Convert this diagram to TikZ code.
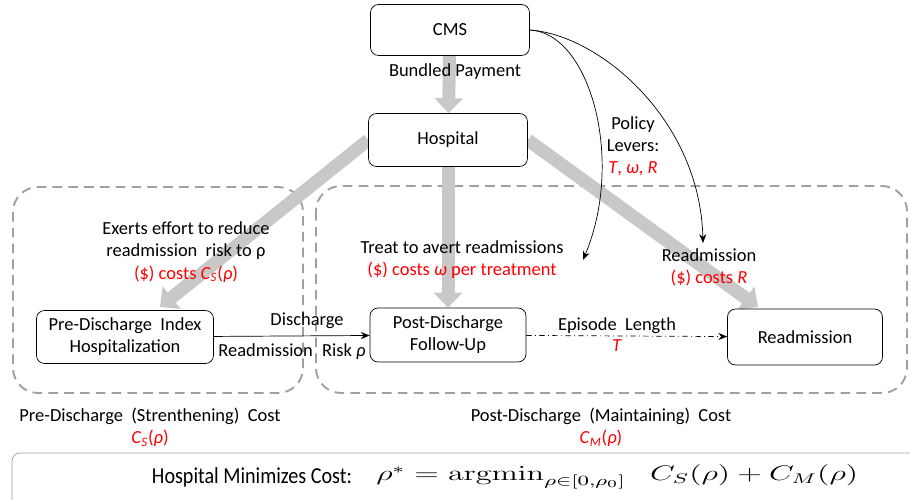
\documentclass[tikz,border=0pt]{standalone}
\usepackage[no-math]{fontspec}
\setmainfont{Carlito}
\usepackage{tikz}
\usetikzlibrary{arrows.meta, backgrounds}

\definecolor{flowgray}{RGB}{200,200,200}
\definecolor{regiongray}{RGB}{160,160,160}
\newcommand{\CostS}{\textit{C}\textsubscript{\textit{S}}(\textit{ρ})}
\newcommand{\CostM}{\textit{C}\textsubscript{\textit{M}}(\textit{ρ})}

\begin{document}
\begin{tikzpicture}[
		x = 0.02cm, y = -0.02cm, thin,
		every node/.style = {font = \fontsize{10.5}{12.6}\selectfont, align = center},
		stage/.style = {draw, rounded corners = 0.16cm, fill = white, inner sep = 2pt},
		flow/.style = {draw = flowgray, line width = 0.26cm, -{Triangle[length = 0.3cm, width = 0.56cm]}},
		region/.style = {draw = regiongray, line width = 1.1pt, dash pattern = on 5.5pt off 3.5pt, rounded corners = 0.5cm},
		lever/.style = {-{Stealth[length = 5pt, width = 4pt]}},
		cost/.style = {text = red}
		]
		\useasboundingbox (0,0) rectangle (910,500);

		% Boxes of the payment chain
		\node[stage, minimum width = 3.18cm, minimum height = 1.02cm] (CMS) at (450,30) {CMS};
		\node[stage, minimum width = 3.18cm, minimum height = 1.06cm] (Hos) at (448,140) {Hospital};
		\node[stage, minimum width = 3.54cm, minimum height = 1.06cm] (Pre) at (125,337) {Pre-Discharge~ Index\\Hospitalization};
		\node[stage, minimum width = 3.12cm, minimum height = 1.08cm] (Post) at (448,335) {Post-Discharge\\Follow-Up};
		\node[stage, minimum width = 3.10cm, minimum height = 1.12cm] (Readm) at (805,337) {Readmission};

		\coordinate (PreTip) at (160,307);
		\coordinate (ReadmTip) at (758,307);
		\coordinate (TreatTip) at (583,260);
		\coordinate (CostTip) at (703,243);

		% Cost regions and money flows behind the boxes
		\begin{scope}[on background layer]
			\draw[region] (13,187) rectangle (303,393);
			\draw[region] (316,186) rectangle (907,393);
			\draw[flow] (CMS) -- (Hos);
			\draw[flow] (Hos.west) -- (PreTip);
			\draw[flow] (Hos) -- (Post);
			\draw[flow] (Hos.east) -- (ReadmTip);
		\end{scope}

		\draw[lever] (Pre) -- (Post);
		\draw[lever, dash dot] (Post) -- (Readm);
		\draw[lever] (CMS.east) .. controls (590,33) and (625,160) .. (TreatTip);
		\draw[lever] (CMS.east) .. controls (600,35) and (700,120) .. (CostTip);

		% Labels on the flows
		\node (bundle) at (455,72) {Bundled Payment};
		\node (levers) at (633,146) {Policy\\Levers:\\\textcolor{red}{\textit{T}, \textit{ω}, \textit{R}}};
		\node (effort) at (186,252) {Exerts effort to reduce\\readmission~ risk to ρ\\\textcolor{red}{(\$) costs \CostS}};
		\node (treat) at (462,260) {Treat to avert readmissions\\\textcolor{red}{(\$) costs \textit{ω} per treatment}};
		\node (penalty) at (709,267) {Readmission\\\textcolor{red}{(\$) costs \textit{R}}};
		\node (discharge) at (307,321) {Discharge};
		\node (risk) at (292,352) {Readmission\enspace Risk \textit{ρ}};
		\node (episode) at (617,326) {Episode~ Length};
		\node[cost] (length) at (617,346) {\textit{T}};

		% Region totals
		\node (preCost) at (150,427) {Pre-Discharge~ (Strenthening)~ Cost\\\textcolor{red}{\CostS}};
		\node (postCost) at (601,427) {Post-Discharge~ (Maintaining)~ Cost\\\textcolor{red}{\CostM}};

		% Objective
		\draw[draw = regiongray, rounded corners = 0.16cm] (12,453) rectangle (930,520);
		\node (goal) at (252,477) {\scalebox{0.88}[1]{\fontsize{13}{15}\selectfont Hospital Minimizes Cost:}};
		\node[anchor = west, inner sep = 0pt] (argmin) at (376,477) {\scalebox{1.53}[1]{\fontsize{12}{14}\selectfont $\rho^* = \mathrm{argmin}_{\rho\in[0,\rho_0]}\hspace{9pt} C_S(\rho) + C_M(\rho)$}};
	\end{tikzpicture}
\end{document}
